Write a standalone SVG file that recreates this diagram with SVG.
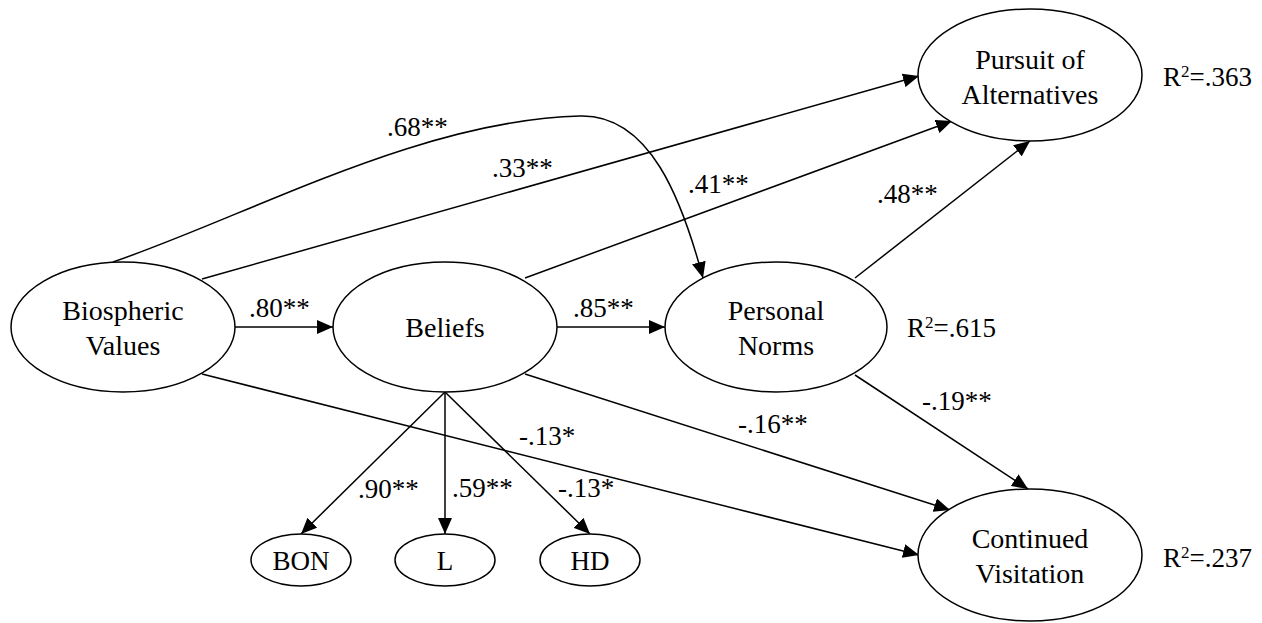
<svg xmlns="http://www.w3.org/2000/svg" width="1262" height="623" viewBox="0 0 1262 623">
<style>
.node{fill:#fff;stroke:#000;stroke-width:1.5}
text{font-family:'Liberation Serif','Times New Roman','DejaVu Serif',serif;fill:#000}
.lbl{font-size:28px;text-anchor:middle}
.small{font-size:27px;text-anchor:middle}
.coef{font-size:27px}
.edge{fill:none;stroke:#000;stroke-width:1.5;marker-end:url(#arr)}
</style>
<defs>
<marker id="arr" markerUnits="userSpaceOnUse" viewBox="0 0 16 14" markerWidth="16" markerHeight="14" refX="16" refY="7" orient="auto">
<path d="M0,0 L16,7 L0,14 z" fill="#000"/>
</marker>
</defs>
<rect width="1262" height="623" fill="#fff"/>
<g id="connectors">
<line class="edge" x1="235" y1="327" x2="333" y2="327"/>
<line class="edge" x1="557" y1="327" x2="665" y2="327"/>
<path class="edge" d="M113,262 C250,215 420,120 580,116 C650,114 682,200 703,278"/>
<line class="edge" x1="202" y1="279" x2="919" y2="76"/>
<line class="edge" x1="525" y1="278" x2="952" y2="121"/>
<line class="edge" x1="855" y1="278" x2="1030" y2="141"/>
<line class="edge" x1="855" y1="375" x2="1028" y2="489"/>
<line class="edge" x1="525" y1="374" x2="950" y2="510"/>
<line class="edge" x1="202" y1="374" x2="919" y2="555"/>
<line class="edge" x1="445" y1="392" x2="301" y2="534"/>
<line class="edge" x1="445" y1="392" x2="445" y2="534"/>
<line class="edge" x1="445" y1="392" x2="590" y2="534"/>
</g>
<g id="edge-labels">
<text class="coef" x="387" y="136">.68**</text>
<text class="coef" x="492" y="177">.33**</text>
<text class="coef" x="688" y="193">.41**</text>
<text class="coef" x="877" y="203">.48**</text>
<text class="coef" x="249" y="317">.80**</text>
<text class="coef" x="573" y="317">.85**</text>
<text class="coef" x="519" y="445">-.13*</text>
<text class="coef" x="738" y="433">-.16**</text>
<text class="coef" x="922" y="410">-.19**</text>
<text class="coef" x="358" y="498">.90**</text>
<text class="coef" x="452" y="497">.59**</text>
<text class="coef" x="558" y="497">-.13*</text>
</g>
<g id="biospheric-values">
<ellipse class="node" cx="123" cy="327" rx="112" ry="65"/>
<text class="lbl" x="123" y="320">Biospheric</text>
<text class="lbl" x="123" y="355">Values</text>
</g>
<g id="beliefs">
<ellipse class="node" cx="445" cy="327" rx="112" ry="65"/>
<text class="lbl" x="445" y="337">Beliefs</text>
</g>
<g id="personal-norms">
<ellipse class="node" cx="776" cy="327" rx="111" ry="65"/>
<text class="lbl" x="776" y="320">Personal</text>
<text class="lbl" x="776" y="355">Norms</text>
</g>
<g id="pursuit-of-alternatives">
<ellipse class="node" cx="1030" cy="75" rx="112" ry="66"/>
<text class="lbl" x="1030" y="69">Pursuit of</text>
<text class="lbl" x="1030" y="104">Alternatives</text>
</g>
<g id="continued-visitation">
<ellipse class="node" cx="1030" cy="555" rx="112" ry="66"/>
<text class="lbl" x="1030" y="548">Continued</text>
<text class="lbl" x="1030" y="583">Visitation</text>
</g>
<g id="bon">
<ellipse class="node" cx="301" cy="560" rx="50" ry="26"/>
<text class="small" x="301" y="570">BON</text>
</g>
<g id="l">
<ellipse class="node" cx="445" cy="560" rx="50" ry="26"/>
<text class="small" x="445" y="570">L</text>
</g>
<g id="hd">
<ellipse class="node" cx="590" cy="560" rx="50" ry="26"/>
<text class="small" x="590" y="570">HD</text>
</g>
<g id="r2-labels">
<text class="coef" x="1163" y="86">R<tspan font-size="17" dy="-9">2</tspan><tspan dy="9">=.363</tspan></text>
<text class="coef" x="907" y="337">R<tspan font-size="17" dy="-9">2</tspan><tspan dy="9">=.615</tspan></text>
<text class="coef" x="1163" y="567">R<tspan font-size="17" dy="-9">2</tspan><tspan dy="9">=.237</tspan></text>
</g>
</svg>
